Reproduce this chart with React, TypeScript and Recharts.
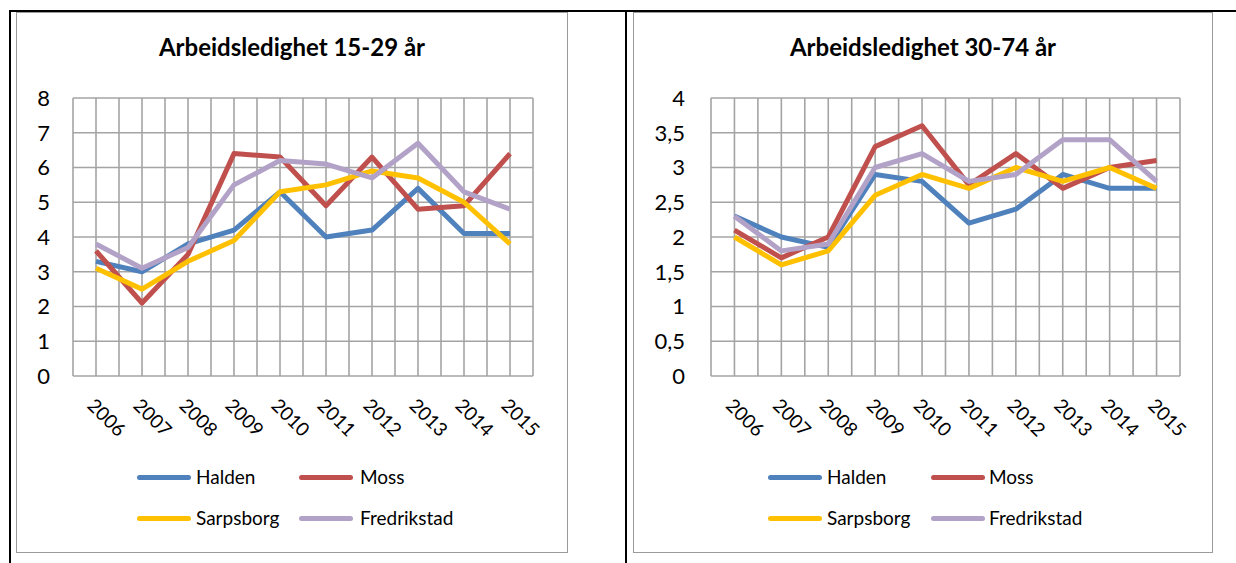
import { LineChart, Line, XAxis, YAxis, CartesianGrid } from 'recharts';

const YEARS = ['2006', '2007', '2008', '2009', '2010', '2011', '2012', '2013', '2014', '2015'];

// 15-29 år
const HALDEN_YOUNG = [3.3, 3.0, 3.8, 4.2, 5.3, 4.0, 4.2, 5.4, 4.1, 4.1];
const MOSS_YOUNG = [3.6, 2.1, 3.5, 6.4, 6.3, 4.9, 6.3, 4.8, 4.9, 6.4];
const SARPSBORG_YOUNG = [3.1, 2.5, 3.3, 3.9, 5.3, 5.5, 5.9, 5.7, 5.0, 3.8];
const FREDRIKSTAD_YOUNG = [3.8, 3.1, 3.7, 5.5, 6.2, 6.1, 5.7, 6.7, 5.3, 4.8];

// 30-74 år
const HALDEN_OLD = [2.3, 2.0, 1.85, 2.9, 2.8, 2.2, 2.4, 2.9, 2.7, 2.7];
const MOSS_OLD = [2.1, 1.7, 2.0, 3.3, 3.6, 2.75, 3.2, 2.7, 3.0, 3.1];
const SARPSBORG_OLD = [2.0, 1.6, 1.8, 2.6, 2.9, 2.7, 3.0, 2.8, 3.0, 2.7];
const FREDRIKSTAD_OLD = [2.3, 1.8, 1.9, 3.0, 3.2, 2.8, 2.9, 3.4, 3.4, 2.8];

const TICKS_YOUNG = [0, 1, 2, 3, 4, 5, 6, 7, 8];
const TICKS_OLD = [0, 0.5, 1, 1.5, 2, 2.5, 3, 3.5, 4];

const SERIES = [
  { key: 'Halden', color: '#4F81BD' },
  { key: 'Moss', color: '#C0504D' },
  { key: 'Sarpsborg', color: '#FFC000' },
  { key: 'Fredrikstad', color: '#B3A2C7' },
];

const FONT = 'Lato, "Open Sans", sans-serif';

function buildRows(h: number[], m: number[], s: number[], f: number[]) {
  return YEARS.map((year, i) => ({ year, Halden: h[i], Moss: m[i], Sarpsborg: s[i], Fredrikstad: f[i] }));
}

const youngRows = buildRows(HALDEN_YOUNG, MOSS_YOUNG, SARPSBORG_YOUNG, FREDRIKSTAD_YOUNG);
const oldRows = buildRows(HALDEN_OLD, MOSS_OLD, SARPSBORG_OLD, FREDRIKSTAD_OLD);

function YearTick({ x, y, payload }: { x?: number; y?: number; payload?: { value: string } }) {
  return (
    <text x={x} y={y} dy="0.72em" transform={`rotate(45, ${x}, ${y})`} fontFamily={FONT} fontSize={19} fill="#000">
      {payload?.value}
    </text>
  );
}

interface PanelProps {
  title: string;
  rows: typeof youngRows;
  ticks: number[];
  left: number;
  width: number;
  axisWidth: number;
  plotWidth: number;
  labelGap: number;
  legendX: [number, number, number, number];
}

const TOP = 13;
const HEIGHT = 539;
const PLOT_TOP = 85;
const PLOT_H = 278;

function Panel({ title, rows, ticks, left, width, axisWidth, plotWidth, labelGap, legendX }: PanelProps) {
  const pad = plotWidth / 20;
  const rightMargin = width - axisWidth - plotWidth;
  const rowsY = [477, 518];
  return (
    <>
      <div
        style={{
          position: 'absolute', left: left - 1, top: TOP - 1, width: width + 2, height: HEIGHT + 2,
          border: '1.5px solid #9b9b9b', boxSizing: 'border-box',
        }}
      />
      <div
        style={{
          position: 'absolute', left, top: 35, width, textAlign: 'center',
          fontFamily: FONT, fontWeight: 700, fontSize: 24, lineHeight: '24px', color: '#000',
        }}
      >
        {title}
      </div>
      <div style={{ position: 'absolute', left, top: TOP }}>
        <LineChart width={width} height={HEIGHT} data={rows} margin={{ top: PLOT_TOP, right: rightMargin, bottom: 0, left: 0 }}>
          <CartesianGrid
            stroke="#a4a4a4"
            strokeWidth={1.6}
            verticalCoordinatesGenerator={({ offset }: any) =>
              Array.from({ length: 21 }, (_, i) => offset.left + (i * offset.width) / 20)
            }
          />
          <XAxis
            dataKey="year"
            height={HEIGHT - PLOT_TOP - PLOT_H}
            padding={{ left: pad, right: pad }}
            axisLine={false}
            tickLine={false}
            tickSize={0}
            tickMargin={21}
            interval={0}
            tick={<YearTick />}
          />
          <YAxis
            width={axisWidth}
            domain={[ticks[0], ticks[ticks.length - 1]]}
            ticks={ticks}
            interval={0}
            axisLine={false}
            tickLine={false}
            tickSize={0}
            tickMargin={labelGap}
            tickFormatter={(v: number) => String(v).replace('.', ',')}
            tick={{ fontSize: 22, fill: '#000', fontFamily: FONT }}
          />
          {SERIES.map((s) => (
            <Line
              key={s.key}
              type="linear"
              dataKey={s.key}
              stroke={s.color}
              strokeWidth={5}
              strokeLinejoin="round"
              dot={false}
              activeDot={false}
              isAnimationActive={false}
            />
          ))}
        </LineChart>
      </div>
      {SERIES.map((s, i) => {
        const lx = legendX[(i % 2) * 2];
        const tx = legendX[(i % 2) * 2 + 1];
        const cy = rowsY[Math.floor(i / 2)];
        return (
          <div key={s.key}>
            <div
              style={{
                position: 'absolute', left: lx, top: cy - 2.5, width: 54, height: 5,
                borderRadius: 3, background: s.color,
              }}
            />
            <div
              style={{
                position: 'absolute', left: tx, top: cy - 10, fontFamily: FONT, fontSize: 19,
                lineHeight: '19px', color: '#000', whiteSpace: 'nowrap',
              }}
            >
              {s.key}
            </div>
          </div>
        );
      })}
    </>
  );
}

export default function App() {
  return (
    <div style={{ position: 'absolute', left: 0, top: 0, width: 1236, height: 563, background: '#fff', overflow: 'hidden' }}>
      <div style={{ position: 'absolute', left: 9, top: 10, width: 1227, height: 2, background: '#000' }} />
      <div style={{ position: 'absolute', left: 9, top: 10, width: 2, height: 553, background: '#000' }} />
      <div style={{ position: 'absolute', left: 625, top: 10, width: 2, height: 553, background: '#000' }} />
      <Panel
        title="Arbeidsledighet 15-29 år"
        rows={youngRows}
        ticks={TICKS_YOUNG}
        left={17}
        width={550}
        axisWidth={56}
        plotWidth={460}
        labelGap={23}
        legendX={[137, 196, 299, 360]}
      />
      <Panel
        title="Arbeidsledighet 30-74 år"
        rows={oldRows}
        ticks={TICKS_OLD}
        left={634}
        width={578}
        axisWidth={77}
        plotWidth={469}
        labelGap={26}
        legendX={[768, 827, 931, 989]}
      />
    </div>
  );
}
